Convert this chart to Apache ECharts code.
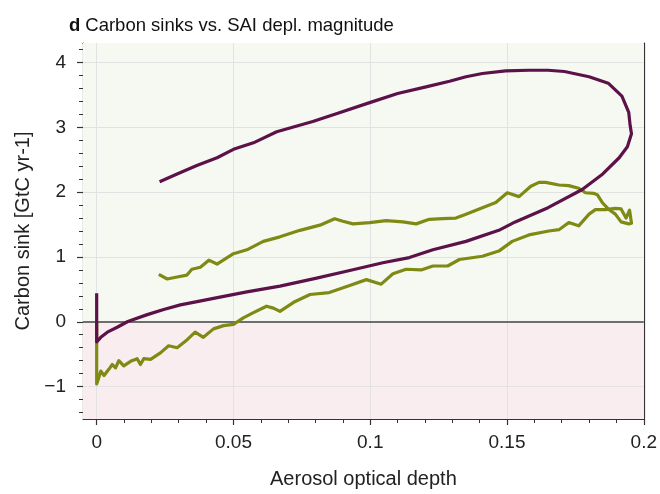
<!DOCTYPE html>
<html>
<head>
<meta charset="utf-8">
<script src="https://cdn.jsdelivr.net/npm/echarts@6/dist/echarts.min.js"></script>
<style>html,body{margin:0;padding:0;background:#fff}#c{width:660px;height:494px}</style>
</head>
<body>
<div id="c"></div>
<script>
// Purple series (path order)
const purpleAod = [0,0,0.0015,0.0039,0.0075,0.0112,0.0124,0.0185,0.0245,0.0306,0.0367,0.0427,0.0488,0.0549,0.067,0.08,0.0925,0.1046,0.1143,0.1229,0.135,0.147,0.153,0.165,0.1775,0.185,0.191,0.194,0.1955,0.195,0.1945,0.192,0.187,0.18,0.171,0.165,0.158,0.1495,0.141,0.135,0.129,0.12,0.11,0.0998,0.0876,0.079,0.0658,0.0573,0.05,0.044,0.0366,0.0294,0.023];
const purpleSink = [0.44,-0.31,-0.24,-0.16,-0.085,0.0,0.02,0.11,0.19,0.26,0.31,0.36,0.41,0.46,0.55,0.67,0.79,0.91,0.99,1.11,1.24,1.41,1.54,1.76,2.04,2.28,2.53,2.7,2.9,3.03,3.23,3.48,3.68,3.78,3.86,3.88,3.88,3.87,3.83,3.78,3.71,3.62,3.52,3.38,3.21,3.09,2.93,2.76,2.66,2.53,2.41,2.28,2.16];
// Olive series (path order)
const oliveAod = [0,0,0.0008,0.0015,0.0027,0.0045,0.0057,0.0069,0.0081,0.0099,0.0124,0.0148,0.016,0.0172,0.0197,0.0233,0.0263,0.0294,0.033,0.036,0.039,0.0427,0.0464,0.05,0.0536,0.0573,0.0621,0.0646,0.067,0.072,0.078,0.085,0.0925,0.0986,0.104,0.1083,0.1131,0.1186,0.1229,0.1283,0.1326,0.141,0.147,0.1519,0.158,0.1653,0.169,0.1726,0.1762,0.18,0.1823,0.186,0.1896,0.1917,0.1935,0.1948,0.1955,0.1945,0.1917,0.1896,0.187,0.1848,0.183,0.1818,0.1787,0.1762,0.1726,0.169,0.1641,0.1617,0.1587,0.1544,0.1501,0.1459,0.141,0.135,0.1313,0.1265,0.1216,0.1168,0.1119,0.1058,0.0998,0.0937,0.09,0.087,0.0816,0.0743,0.067,0.0609,0.0549,0.05,0.044,0.041,0.0379,0.0348,0.033,0.0294,0.0258,0.0227];
const oliveSink = [0,-0.96,-0.86,-0.76,-0.83,-0.73,-0.66,-0.71,-0.6,-0.68,-0.61,-0.57,-0.66,-0.57,-0.58,-0.48,-0.37,-0.4,-0.28,-0.16,-0.24,-0.11,-0.06,-0.04,0.06,0.14,0.24,0.21,0.16,0.3,0.42,0.45,0.56,0.65,0.58,0.74,0.81,0.8,0.86,0.86,0.96,1.01,1.09,1.24,1.34,1.4,1.42,1.53,1.48,1.66,1.73,1.73,1.75,1.74,1.6,1.72,1.52,1.51,1.54,1.66,1.74,1.84,1.96,1.98,1.99,2.06,2.1,2.11,2.15,2.15,2.09,1.93,1.99,1.84,1.76,1.66,1.6,1.59,1.58,1.51,1.54,1.56,1.53,1.51,1.55,1.59,1.49,1.41,1.31,1.24,1.11,1.05,0.89,0.95,0.84,0.81,0.72,0.69,0.66,0.73];
// Ticks
const xMajorTicks = [0,0.05,0.1,0.15,0.2];
const xMinorTicks = [0.01,0.02,0.03,0.04,0.06,0.07,0.08,0.09,0.11,0.12,0.13,0.14,0.16,0.17,0.18,0.19];
const yMajorTicks = [-1,0,1,2,3,4];
const yMinorTicks = [-1.4,-1.2,-0.8,-0.6,-0.4,-0.2,0.2,0.4,0.6,0.8,1.2,1.4,1.6,1.8,2.2,2.4,2.6,2.8,3.2,3.4,3.6,3.8,4.2];

const X_MIN = -0.005, X_MAX = 0.2, Y_MIN = -1.5, Y_MAX = 4.3;
const FONT = "'Liberation Sans', Arial, Helvetica, sans-serif";
const zip = (a, b) => a.map((v, i) => [v, b[i]]);
const gridColor = '#e2e2e2';
const axisColor = '#333';

const chart = echarts.init(document.getElementById('c'), null, {renderer: 'canvas'});
chart.setOption({
  animation: false,
  backgroundColor: '#ffffff',
  title: {
    left: 64, top: 11,
    text: '{b|d} {n|Carbon sinks vs. SAI depl. magnitude}',
    textStyle: {
      fontWeight: 'normal',
      rich: {
        b: {fontFamily: FONT, fontSize: 18.5, fontWeight: 'bold', color: '#111'},
        n: {fontFamily: FONT, fontSize: 18.5, fontWeight: 'normal', color: '#111'}
      }
    }
  },
  grid: {left: 83, top: 43, right: 16, bottom: 64, containLabel: false},
  xAxis: [
    {
      type: 'value', min: X_MIN, max: X_MAX, position: 'bottom',
      name: 'Aerosol optical depth', nameLocation: 'middle', nameGap: 50,
      nameTextStyle: {fontFamily: FONT, fontSize: 20, color: '#222'},
      axisLine: {show: true, onZero: false, lineStyle: {color: axisColor, width: 1.2}},
      axisTick: {show: true, customValues: xMajorTicks, length: 6, lineStyle: {color: axisColor, width: 1.2}},
      axisLabel: {customValues: xMajorTicks, margin: 14, fontFamily: FONT, fontSize: 19, color: '#222',
        formatter: v => String(+v.toFixed(3))},
      splitLine: {show: false}
    },
    {
      type: 'value', min: X_MIN, max: X_MAX, position: 'bottom',
      axisLine: {show: false, onZero: false},
      axisTick: {show: true, customValues: xMinorTicks, length: 4, lineStyle: {color: axisColor, width: 1}},
      axisLabel: {show: false}, splitLine: {show: false}
    },
    {
      type: 'value', min: X_MIN, max: X_MAX, position: 'top',
      axisLine: {show: true, onZero: false, lineStyle: {color: axisColor, width: 1.2}},
      axisTick: {show: false}, axisLabel: {show: false}, splitLine: {show: false}
    }
  ],
  yAxis: [
    {
      type: 'value', min: Y_MIN, max: Y_MAX, position: 'left',
      name: 'Carbon sink [GtC yr-1]', nameLocation: 'middle', nameGap: 50, nameRotate: 90,
      nameTextStyle: {fontFamily: FONT, fontSize: 20, color: '#222'},
      axisLine: {show: true, onZero: false, lineStyle: {color: axisColor, width: 1.2}},
      axisTick: {show: true, customValues: yMajorTicks, length: 6, lineStyle: {color: axisColor, width: 1.2}},
      axisLabel: {customValues: yMajorTicks, margin: 17, fontFamily: FONT, fontSize: 19, color: '#222',
        formatter: v => String(v).replace('-', '\u2212')},
      splitLine: {show: false}
    },
    {
      type: 'value', min: Y_MIN, max: Y_MAX, position: 'left',
      axisLine: {show: false, onZero: false},
      axisTick: {show: true, customValues: yMinorTicks, length: 4, lineStyle: {color: axisColor, width: 1}},
      axisLabel: {show: false}, splitLine: {show: false}
    },
    {
      type: 'value', min: Y_MIN, max: Y_MAX, position: 'right',
      axisLine: {show: true, onZero: false, lineStyle: {color: axisColor, width: 1.2}},
      axisTick: {show: false}, axisLabel: {show: false}, splitLine: {show: false}
    }
  ],
  series: [
    {
      type: 'line', data: [], silent: true, z: 1,
      markArea: {
        silent: true, z: 1,
        data: [
          [{yAxis: 0, itemStyle: {color: '#f6f9f1'}}, {yAxis: Y_MAX}],
          [{yAxis: Y_MIN, itemStyle: {color: '#f9edf0'}}, {yAxis: 0}]
        ]
      },
      markLine: {
        silent: true, z: 2, symbol: 'none', label: {show: false},
        lineStyle: {color: gridColor, width: 1, type: 'solid'},
        data: [
          {xAxis: 0}, {xAxis: 0.05}, {xAxis: 0.1}, {xAxis: 0.15},
          {yAxis: -1}, {yAxis: 1}, {yAxis: 2}, {yAxis: 3}, {yAxis: 4},
          {yAxis: 0, lineStyle: {color: '#6e6e6e', width: 2}}
        ]
      }
    },
    {
      name: 'olive', type: 'line', data: zip(oliveAod, oliveSink), z: 6,
      showSymbol: false, symbol: 'none', smooth: false,
      lineStyle: {color: '#7f8a15', width: 3.2, join: 'round'}, itemStyle: {color: '#7f8a15'}
    },
    {
      name: 'purple', type: 'line', data: zip(purpleAod, purpleSink), z: 7,
      showSymbol: false, symbol: 'none', smooth: false,
      lineStyle: {color: '#5c1248', width: 3.2, join: 'round'}, itemStyle: {color: '#5c1248'}
    }
  ]
});
</script>
</body>
</html>
